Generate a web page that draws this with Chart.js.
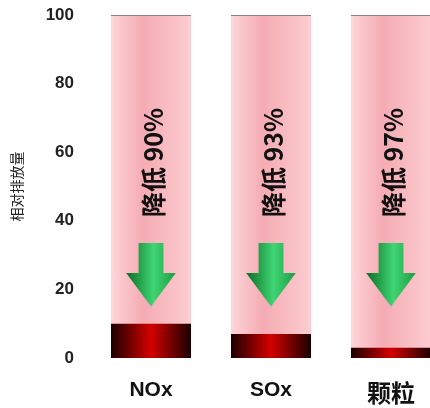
<!DOCTYPE html>
<html>
<head>
<meta charset="utf-8">
<script src="https://cdn.jsdelivr.net/npm/chart.js@4.4.0/dist/chart.umd.min.js"></script>
<style>
  html, body { margin: 0; padding: 0; background: #fff; overflow: hidden; }
  #wrap { width: 430px; height: 408px; overflow: hidden; }
</style>
</head>
<body>
<div id="wrap"><canvas id="chart" width="460" height="408"></canvas></div>
<script>
var categories = ["NOx", "SOx", "颗粒"];
var before = [100, 100, 100];
var after = [10, 7, 3];
var reductionText = ["降低 90%", "降低 93%", "降低 97%"];
var yTicks = [0, 20, 40, 60, 80, 100];

// where the arrow and text sit, in axis units
var textAt = 57;
var arrowTop = 33.5;
var arrowNeck = 24.8;
var arrowTip = 15;

var barPct = 0.667;

function barEdges(chart, i) {
  var xs = chart.scales.x;
  var cx = xs.getPixelForValue(i);
  var half = xs.width / categories.length * barPct / 2;
  return [cx - half, cx + half, cx];
}

function pinkFill(c) {
  var chart = c.chart;
  if (!chart.chartArea) return "#f8b8bf";
  var e = barEdges(chart, c.dataIndex);
  var g = chart.ctx.createLinearGradient(e[0], 0, e[1], 0);
  g.addColorStop(0, "#fdd6d9");
  g.addColorStop(0.4, "#f5abb3");
  g.addColorStop(1, "#fccdd1");
  return g;
}

function redFill(c) {
  var chart = c.chart;
  if (!chart.chartArea) return "#b00000";
  var e = barEdges(chart, c.dataIndex);
  var g = chart.ctx.createLinearGradient(e[0], 0, e[1], 0);
  g.addColorStop(0, "#1a0000");
  g.addColorStop(0.5, "#d40000");
  g.addColorStop(1, "#1a0000");
  return g;
}

var decorations = {
  id: "decorations",
  afterDatasetsDraw: function (chart) {
    var ctx = chart.ctx;
    var ys = chart.scales.y;
    for (var i = 0; i < categories.length; i++) {
      var e = barEdges(chart, i);
      var w = e[1] - e[0];
      var cx = e[2];
      var shaft = w * 0.31 / 2;
      var head = w * 0.62 / 2;
      var yTop = ys.getPixelForValue(arrowTop);
      var yNeck = ys.getPixelForValue(arrowNeck);
      var yTip = ys.getPixelForValue(arrowTip);

      var g = ctx.createLinearGradient(cx - head, 0, cx + head, 0);
      g.addColorStop(0, "#0c6e26");
      g.addColorStop(0.55, "#3fd574");
      g.addColorStop(1, "#1f9e45");

      ctx.save();
      ctx.beginPath();
      ctx.moveTo(cx - shaft, yTop);
      ctx.lineTo(cx + shaft, yTop);
      ctx.lineTo(cx + shaft, yNeck);
      ctx.lineTo(cx + head, yNeck);
      ctx.lineTo(cx, yTip);
      ctx.lineTo(cx - head, yNeck);
      ctx.lineTo(cx - shaft, yNeck);
      ctx.closePath();
      ctx.fillStyle = g;
      ctx.fill();
      ctx.restore();

      ctx.save();
      ctx.translate(cx + 2, ys.getPixelForValue(textAt));
      ctx.rotate(-Math.PI / 2);
      ctx.font = "bold 25px 'Noto Sans CJK SC', sans-serif";
      ctx.fillStyle = "#111";
      ctx.textAlign = "center";
      ctx.textBaseline = "middle";
      ctx.fillText(reductionText[i], 0, 0);
      ctx.restore();
    }
  }
};

new Chart(document.getElementById("chart"), {
  type: "bar",
  data: {
    labels: categories,
    datasets: [
      {
        data: after,
        backgroundColor: redFill,
        borderWidth: 0,
        barPercentage: 1,
        categoryPercentage: barPct,
        order: 0
      },
      {
        data: before,
        backgroundColor: pinkFill,
        borderColor: "#8c7f80",
        borderWidth: { top: 1, left: 0, right: 0, bottom: 0 },
        borderSkipped: false,
        barPercentage: 1,
        categoryPercentage: barPct,
        order: 1
      }
    ]
  },
  options: {
    responsive: false,
    animation: false,
    layout: { padding: { top: 15, right: 9, left: 0, bottom: 0 } },
    plugins: {
      legend: { display: false },
      tooltip: { enabled: false }
    },
    scales: {
      x: {
        stacked: true,
        grid: { display: false, drawTicks: false },
        border: { display: false },
        afterFit: function (s) { s.height = 50; },
        ticks: {
          padding: 20,
          color: "#111",
          font: function (c) {
            if (c.index === 2) return { size: 24, weight: "bold", family: "'Noto Sans CJK SC', sans-serif" };
            return { size: 21, weight: "bold", family: "'Liberation Sans', Arial, sans-serif" };
          }
        }
      },
      y: {
        min: 0,
        max: 100,
        afterFit: function (s) {
          s.width = 91;
          s.paddingTop = 0;
          s.paddingBottom = 0;
        },
        afterBuildTicks: function (s) {
          s.ticks = yTicks.map(function (v) { return { value: v }; });
        },
        grid: { display: false, drawTicks: false },
        border: { display: false },
        ticks: {
          padding: 17,
          color: "#222",
          font: { size: 17, weight: "bold", family: "'Liberation Sans', Arial, sans-serif" }
        },
        title: {
          display: true,
          text: "相对排放量",
          color: "#222",
          padding: { top: 8, bottom: 0 },
          font: { size: 14, family: "'Noto Sans CJK SC', sans-serif" }
        }
      }
    }
  },
  plugins: [decorations]
});
</script>
</body>
</html>
